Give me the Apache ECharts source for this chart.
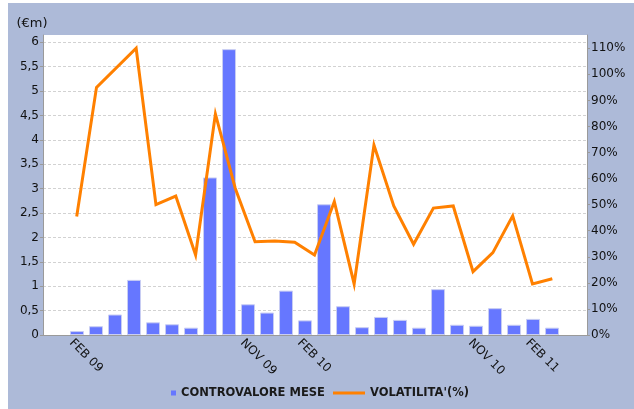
<!DOCTYPE html>
<html>
<head>
<meta charset="utf-8">
<script src="https://cdn.jsdelivr.net/npm/echarts@6/dist/echarts.min.js"></script>
<style>
  html, body { margin: 0; padding: 0; background: #fff; }
  #main { position: absolute; left: 8px; top: 3px; width: 626px; height: 406px; }
</style>
</head>
<body>
<div id="main"></div>
<script>
// mesi delle barre (feb 09 - mar 11)
var months = ['FEB 09','MAR 09','APR 09','MAY 09','JUN 09','JUL 09','AUG 09','SEP 09','OCT 09','NOV 09','DEC 09',
  'JAN 10','FEB 10','MAR 10','APR 10','MAY 10','JUN 10','JUL 10','AUG 10','SEP 10','OCT 10','NOV 10','DEC 10',
  'JAN 11','FEB 11','MAR 11'];
var shownLabels = ['FEB 09','NOV 09','FEB 10','NOV 10','FEB 11'];
var controvalore = [0.08, 0.18, 0.42, 1.13, 0.26, 0.22, 0.15, 3.23, 5.86, 0.63, 0.46, 0.91, 0.30,
  2.68, 0.59, 0.16, 0.37, 0.31, 0.15, 0.94, 0.21, 0.19, 0.55, 0.21, 0.33, 0.15];
// volatilita' (%), punti su una scala propria
var volatilita = [45.5, 95, null, 110, 50, 53.3, 30.7, 84.8, 56.3, 35.8, 36.1, 35.6, 30.7,
  51.2, 19.6, 72.9, 49.5, 34.8, 48.7, 49.5, 24.3, 31.6, 45.7, 19.6, 21.6];

var font = 'DejaVu Sans';
var axisGray = '#9a9a9a';

var myecharts = echarts.init(document.getElementById('main'));
var option = {
    backgroundColor: '#adbad8',
    animation: false,
    textStyle: { fontFamily: font },
    grid: {
        left: 35, right: 47, top: 32, bottom: 74,
        show: true, backgroundColor: '#fff', borderWidth: 0
    },
    legend: [
        {
            left: 158, top: 379,
            itemWidth: 5, itemHeight: 5,
            icon: 'rect',
            data: [{ name: 'CONTROVALORE MESE', itemStyle: { borderWidth: 0 } }],
            textStyle: { fontFamily: font, fontSize: 11.5, fontWeight: 'bold', color: '#1a1a1a' }
        },
        {
            left: 320, top: 379,
            itemWidth: 32, itemHeight: 3,
            icon: 'rect',
            data: ['VOLATILITA\'(%)'],
            textStyle: { fontFamily: font, fontSize: 11.5, fontWeight: 'bold', color: '#1a1a1a' }
        }
    ],
    xAxis: [
        {
            type: 'value',
            min: -1.79, max: 26.84,
            axisLine: { show: true, lineStyle: { color: axisGray } },
            axisTick: { show: false },
            splitLine: { show: false },
            axisLabel: {
                customValues: shownLabels.map(function (m) { return months.indexOf(m) - 0.3; }),
                formatter: function (v) { return months[Math.round(v + 0.3)]; },
                rotate: -45,
                margin: 6,
                color: '#111',
                fontSize: 12,
                fontFamily: font
            }
        },
        {
            type: 'value',
            min: -1.70, max: 25.75,
            show: false
        }
    ],
    yAxis: [
        {
            type: 'value',
            name: '(€m)',
            nameLocation: 'end',
            nameGap: 5,
            nameTextStyle: { color: '#111', fontSize: 13, fontFamily: font, padding: [0, 22, 0, 0] },
            min: 0, max: 6.15, interval: 0.5,
            axisLine: { show: true, onZero: false, lineStyle: { color: axisGray } },
            axisTick: { show: true, length: 3, lineStyle: { color: axisGray } },
            axisLabel: {
                showMaxLabel: false,
                margin: 4,
                color: '#111', fontSize: 12, fontFamily: font,
                formatter: function (v) { return String(v).replace('.', ','); }
            },
            splitLine: { show: true, showMaxLine: false, lineStyle: { color: '#d2d2d2', type: [3, 2] } }
        },
        {
            type: 'value',
            min: 0, max: 115.1, interval: 10,
            axisLine: { show: true, onZero: false, lineStyle: { color: axisGray } },
            axisTick: { show: true, length: 3, lineStyle: { color: axisGray } },
            axisLabel: {
                showMaxLabel: false,
                margin: 4,
                color: '#111', fontSize: 12, fontFamily: font,
                formatter: '{value}%'
            },
            splitLine: { show: false }
        }
    ],
    series: [
        {
            name: 'CONTROVALORE MESE',
            type: 'bar',
            xAxisIndex: 0,
            yAxisIndex: 0,
            barWidth: 14,
            itemStyle: { color: '#6677ff', borderColor: '#c8cdf3', borderWidth: 1 },
            data: controvalore.map(function (v, i) { return [i, v]; })
        },
        {
            name: 'VOLATILITA\'(%)',
            type: 'line',
            xAxisIndex: 1,
            yAxisIndex: 1,
            symbol: 'none',
            connectNulls: true,
            z: 5,
            lineStyle: { color: '#ff8000', width: 3, join: 'miter' },
            itemStyle: { color: '#ff8000' },
            data: volatilita.map(function (v, i) { return [i, v]; })
        }
    ]
};
myecharts.setOption(option);
</script>
</body>
</html>
